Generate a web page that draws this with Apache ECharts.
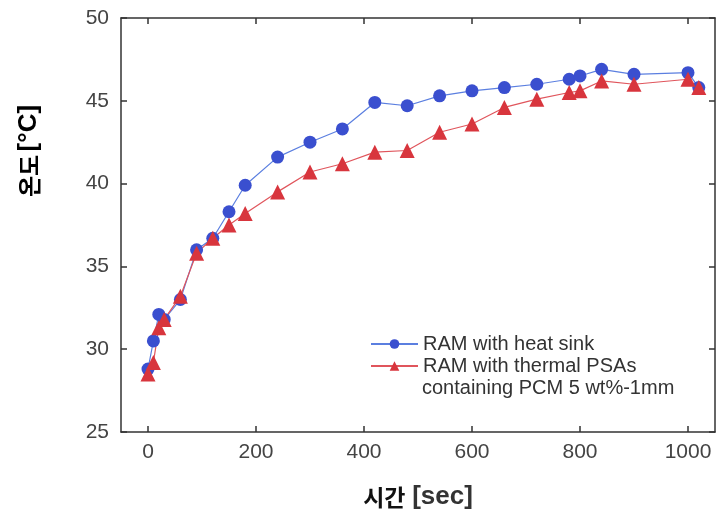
<!DOCTYPE html>
<html><head><meta charset="utf-8">
<script src="https://cdn.jsdelivr.net/npm/echarts@6/dist/echarts.min.js"></script>
<style>html,body{margin:0;padding:0;background:#fff}#c{width:720px;height:520px}</style>
</head><body><div id="c"></div>
<script>
const timeSec = [0, 10, 20, 30, 60, 90, 120, 150, 180, 240, 300, 360, 420, 480, 540, 600, 660, 720, 780, 800, 840, 900, 1000, 1020];
const heatSink = [28.8, 30.5, 32.1, 31.8, 33.0, 36.0, 36.7, 38.3, 39.9, 41.6, 42.5, 43.3, 44.9, 44.7, 45.3, 45.6, 45.8, 46.0, 46.3, 46.5, 46.9, 46.6, 46.7, 45.8];
const thermalPSA = [28.5, 29.2, 31.3, 31.8, 33.2, 35.8, 36.7, 37.5, 38.2, 39.5, 40.7, 41.2, 41.9, 42.0, 43.1, 43.6, 44.6, 45.1, 45.5, 45.6, 46.2, 46.0, 46.3, 45.8];
const xTicks = [0, 200, 400, 600, 800, 1000];
const yTicks = [25, 30, 35, 40, 45, 50];
const seriesNames = ['RAM with heat sink', 'RAM with thermal PSAs'];
const legendExtra = 'containing PCM 5 wt%-1mm';
const xTitle = '{k|시간}  {e|[sec]}';
const yTitle = '{k|온도} {e|[°C]}';

const chart = echarts.init(document.getElementById('c'));
const frame = {show: true, onZero: false, lineStyle: {color: '#333', width: 1.5}};
const tickStyle = {show: true, inside: true, length: 6, lineStyle: {color: '#333', width: 1.5}};
const lblFont = {fontFamily: 'Liberation Sans, Arial', fontSize: 21, color: '#444'};
const nameRich = {
  k: {fontFamily: 'Noto Sans CJK KR', fontSize: 23, fontWeight: 'bold', color: '#111'},
  e: {fontFamily: 'Liberation Sans, Arial', fontSize: 26, fontWeight: 'bold', color: '#333'}
};
chart.setOption({
  animation: false,
  backgroundColor: '#fff',
  grid: {left: 121, right: 5, top: 18, bottom: 88},
  legend: {
    orient: 'vertical', left: 370, top: 334, padding: 0, itemWidth: 47, itemHeight: 12, itemGap: 2,
    textStyle: {fontFamily: 'Liberation Sans, Arial', fontSize: 20, color: '#333'},
    data: seriesNames
  },
  graphic: [{
    type: 'text', left: 422, top: 378,
    style: {text: legendExtra, font: '20px "Liberation Sans", Arial', fill: '#333'}
  }, {
    type: 'text', x: 29, y: 151, rotation: Math.PI / 2,
    style: {text: yTitle, rich: nameRich, align: 'center', verticalAlign: 'middle'}
  }],
  xAxis: [{
    type: 'value', min: -50, max: 1050, position: 'bottom',
    name: xTitle, nameLocation: 'middle', nameGap: 52,
    nameTextStyle: {rich: nameRich},
    axisLine: frame, splitLine: {show: false},
    axisTick: Object.assign({customValues: xTicks}, tickStyle),
    axisLabel: Object.assign({customValues: xTicks, margin: 10, formatter: v => String(v)}, lblFont)
  }, {
    type: 'value', min: -50, max: 1050, position: 'top',
    axisLine: frame, splitLine: {show: false},
    axisTick: Object.assign({customValues: xTicks}, tickStyle),
    axisLabel: {show: false}
  }],
  yAxis: [{
    type: 'value', min: 25, max: 50, interval: 5, position: 'left',
    axisLine: frame, splitLine: {show: false}, axisTick: tickStyle,
    axisLabel: Object.assign({margin: 12, formatter: v => String(v)}, lblFont)
  }, {
    type: 'value', min: 25, max: 50, interval: 5, position: 'right',
    axisLine: frame, splitLine: {show: false}, axisTick: tickStyle,
    axisLabel: {show: false}
  }],
  series: [{
    name: seriesNames[0], type: 'line',
    data: timeSec.map((t, i) => [t, heatSink[i]]),
    symbol: 'circle', symbolSize: 13,
    itemStyle: {color: '#3a4fcf'},
    lineStyle: {color: '#5b7fe0', width: 1.2}
  }, {
    name: seriesNames[1], type: 'line',
    data: timeSec.map((t, i) => [t, thermalPSA[i]]),
    symbol: 'triangle', symbolSize: 15,
    itemStyle: {color: '#d8353d'},
    lineStyle: {color: '#e0555c', width: 1.2}
  }]
});
</script>
</body></html>
